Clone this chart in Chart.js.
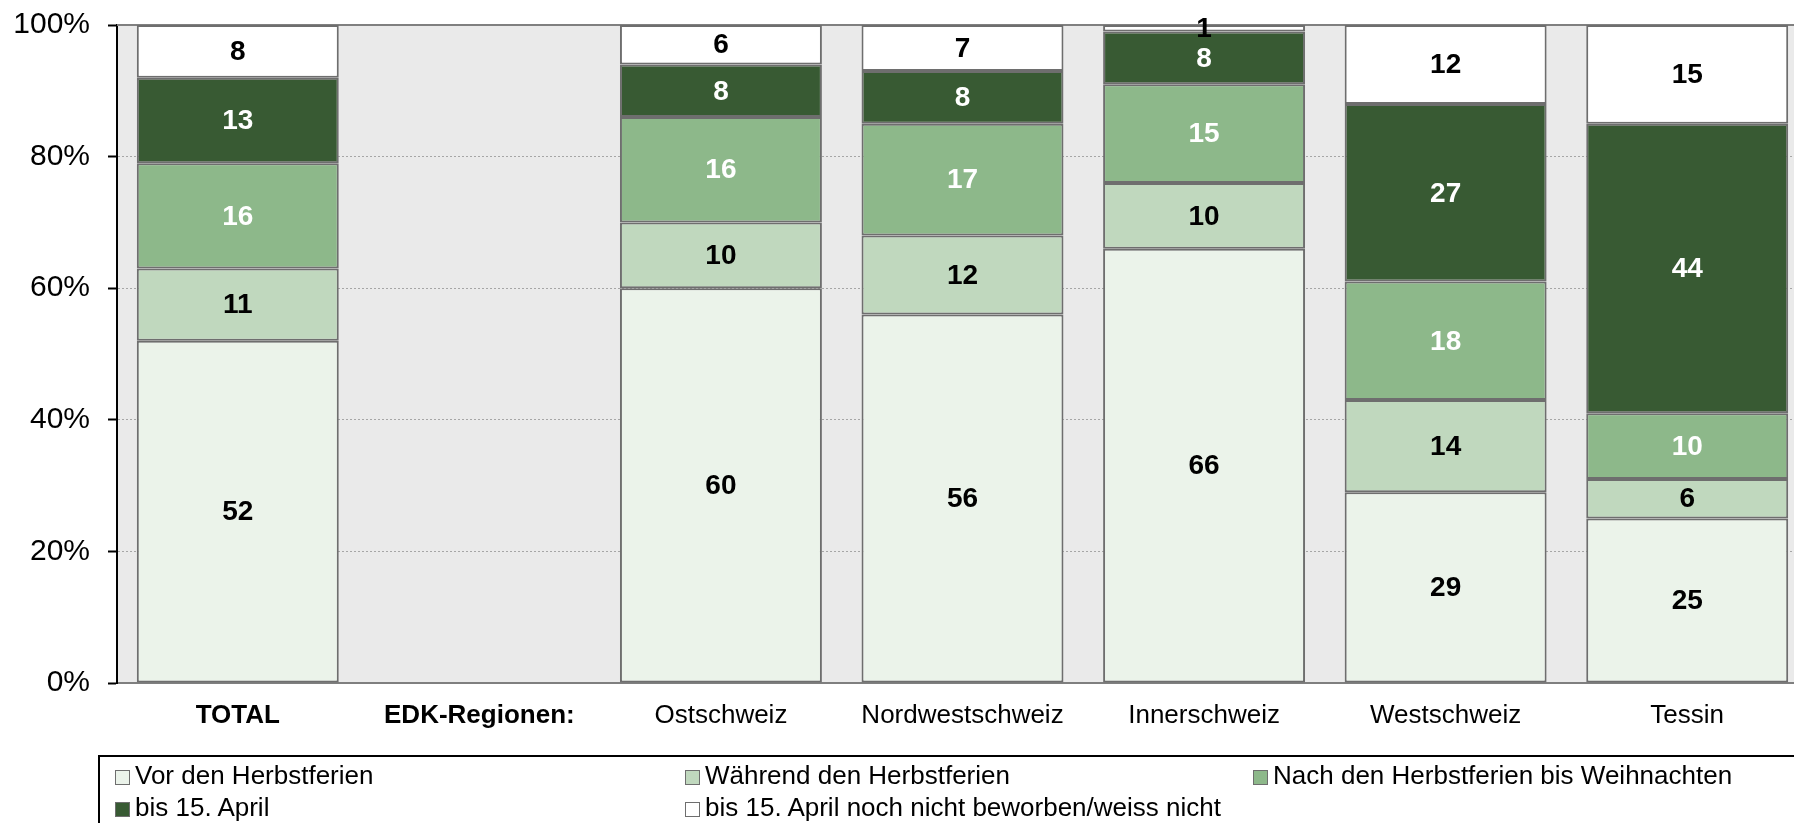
<!DOCTYPE html>
<html>
<head>
<meta charset="utf-8">
<title>Bewerbung Lehrstelle</title>
<script src="https://cdn.jsdelivr.net/npm/chart.js@4.4.1/dist/chart.umd.min.js"></script>
<style>
  html, body { margin: 0; padding: 0; background: #fff; overflow: hidden; }
  #wrap { position: relative; width: 1794px; height: 823px; overflow: hidden; }
  #chart { position: absolute; left: 0; top: 0; }
  #legend {
    position: absolute; left: 98px; top: 755px; width: 1720px; height: 100px;
    border: 2px solid #000; box-sizing: border-box;
    font-family: "Liberation Sans", Arial, sans-serif; font-size: 26px; color: #000;
  }
  .item { position: absolute; white-space: nowrap; line-height: 30px; height: 30px; }
  .box { display: inline-block; width: 13px; height: 13px; border: 1.5px solid #6e6e6e; margin-right: 5px; vertical-align: -1px; }
</style>
</head>
<body>
<div id="wrap">
  <canvas id="chart" width="1808" height="823"></canvas>
  <div id="legend"></div>
</div>
<script>
// categories and values (percent)
var categories = ["TOTAL", "EDK-Regionen:", "Ostschweiz", "Nordwestschweiz", "Innerschweiz", "Westschweiz", "Tessin"];
var vorHerbst      = [52, null, 60, 56, 66, 29, 25];
var waehrendHerbst = [11, null, 10, 12, 10, 14, 6];
var nachHerbst     = [16, null, 16, 17, 15, 18, 10];
var bisApril       = [13, null, 8, 8, 8, 27, 44];
var nochNicht      = [8, null, 6, 7, 1, 12, 15];
var yTicks = [0, 20, 40, 60, 80, 100];

var seriesNames = [
  "Vor den Herbstferien",
  "Während den Herbstferien",
  "Nach den Herbstferien bis Weihnachten",
  "bis 15. April",
  "bis 15. April noch nicht beworben/weiss nicht"
];

var FONT = "'Liberation Sans', Arial, sans-serif";

function makeSet(label, data, color, textColor) {
  return {
    label: label,
    data: data,
    backgroundColor: color,
    borderColor: "#6e6e6e",
    borderWidth: 2,
    borderSkipped: false,
    barPercentage: 0.836,
    categoryPercentage: 1.0,
    textColor: textColor
  };
}

// grey plot area + white page
var plotBg = {
  id: "plotBg",
  beforeDraw: function(chart) {
    var c = chart.ctx, a = chart.chartArea;
    c.save();
    c.fillStyle = "#fff";
    c.fillRect(0, 0, chart.width, chart.height);
    c.fillStyle = "#eaeaea";
    c.fillRect(a.left, a.top, a.right - a.left, a.bottom - a.top);
    c.restore();
  },
  beforeDatasetsDraw: function(chart) {
    var c = chart.ctx, a = chart.chartArea;
    c.save();
    c.strokeStyle = "#808080";
    c.lineWidth = 2;
    c.beginPath();
    c.moveTo(a.left, a.top);
    c.lineTo(a.right, a.top);
    c.stroke();
    c.restore();
  }
};

// value labels in the middle of each segment
var segLabels = {
  id: "segLabels",
  afterDatasetsDraw: function(chart) {
    var c = chart.ctx;
    c.save();
    c.font = "bold 28px " + FONT;
    c.textAlign = "center";
    c.textBaseline = "middle";
    chart.data.datasets.forEach(function(ds, i) {
      var meta = chart.getDatasetMeta(i);
      meta.data.forEach(function(bar, j) {
        var v = ds.data[j];
        if (v == null) return;
        var p = bar.getProps(["x", "y", "base"], true);
        c.fillStyle = ds.textColor;
        c.fillText(String(v), p.x, (p.y + p.base) / 2 + 1);
      });
    });
    c.restore();
  }
};

var ctx = document.getElementById("chart").getContext("2d");
var myChart = new Chart(ctx, {
  type: "bar",
  data: {
    labels: categories,
    datasets: [
      makeSet(seriesNames[0], vorHerbst, "#ebf3ea", "#000"),
      makeSet(seriesNames[1], waehrendHerbst, "#c0d8be", "#000"),
      makeSet(seriesNames[2], nachHerbst, "#8db88a", "#fff"),
      makeSet(seriesNames[3], bisApril, "#385a33", "#fff"),
      makeSet(seriesNames[4], nochNicht, "#ffffff", "#000")
    ]
  },
  options: {
    responsive: false,
    animation: false,
    layout: { padding: { top: 25, right: 0, bottom: 0, left: 0 } },
    plugins: {
      legend: { display: false },
      tooltip: { enabled: false }
    },
    scales: {
      x: {
        stacked: true,
        grid: { display: false },
        border: { display: true, color: "#7f7f7f", width: 2 },
        ticks: {
          color: "#000",
          padding: 9,
          maxRotation: 0,
          autoSkip: false,
          font: function(c) {
            return { family: FONT, size: 26, weight: c.index < 2 ? "bold" : "normal" };
          }
        },
        afterFit: function(scale) { scale.height = 140; }
      },
      y: {
        stacked: true,
        min: 0,
        max: 100,
        afterBuildTicks: function(scale) {
          scale.ticks = yTicks.map(function(v) { return { value: v }; });
        },
        grid: {
          color: "#a6a6a6",
          lineWidth: 1,
          tickColor: "#000",
          tickLength: 9,
          tickWidth: 2,
          tickBorderDash: []
        },
        border: {
          display: true,
          color: "#000",
          width: 2,
          dash: function(c) { return [2, 2]; }
        },
        ticks: {
          color: "#000",
          padding: 18,
          font: { family: FONT, size: 30 },
          callback: function(v) { return v + "%"; }
        },
        afterFit: function(scale) {
          scale.width = 117;
          scale.paddingTop = 0;
          scale.paddingBottom = 0;
        }
      }
    }
  },
  plugins: [plotBg, segLabels]
});

// legend in a box, three columns
var legendEl = document.getElementById("legend");
var colX = [15, 585, 1153];
myChart.data.datasets.forEach(function(ds, i) {
  var item = document.createElement("div");
  item.className = "item";
  item.style.left = colX[i % 3] + "px";
  item.style.top = (3 + Math.floor(i / 3) * 32) + "px";
  var box = document.createElement("span");
  box.className = "box";
  box.style.background = ds.backgroundColor;
  item.appendChild(box);
  item.appendChild(document.createTextNode(ds.label));
  legendEl.appendChild(item);
});
</script>
</body>
</html>
